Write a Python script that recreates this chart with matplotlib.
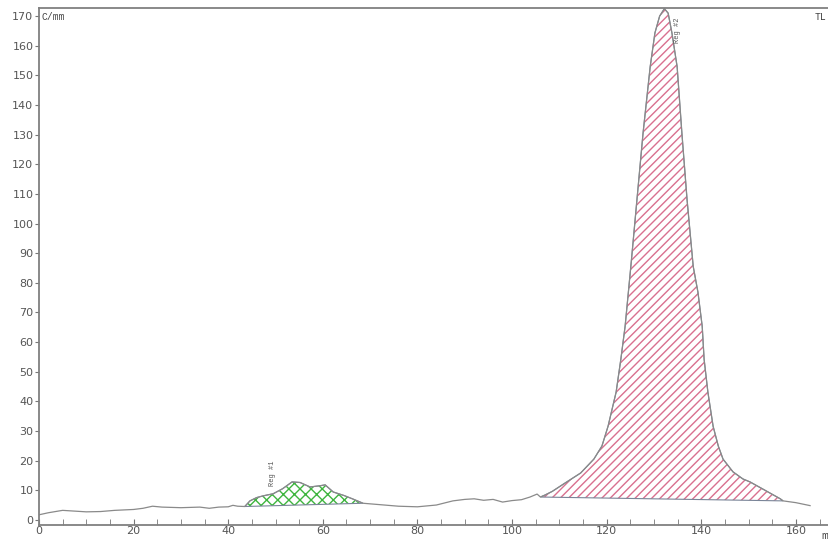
import numpy as np
import matplotlib
matplotlib.use("Agg")
import matplotlib.pyplot as plt
from matplotlib.ticker import MultipleLocator

# trace (mm, C/mm)
pos = [0, 2, 5, 7, 10, 13, 16, 20, 22, 24, 26, 30, 34, 36, 38, 40, 41, 42,
       43.5, 44.6, 46, 47.4, 49.5, 51.5, 53.5, 55.2, 57.3, 59.4, 60.5, 62.2, 64.5, 66.4, 68.5,
       70, 73, 76, 80, 84, 87.5, 90, 92, 94, 96, 98, 100, 102, 103.8, 105.3,
       106, 107, 108.5, 110.8, 114.5, 117.3, 119, 120.3, 122, 123, 123.9, 124.6, 125.2, 126.4,
       127.7, 129.2, 130.2, 131.2, 132.2, 133.0, 133.8, 134.9, 135.9, 137, 138.3, 139.3,
       140.2, 140.6, 141.4, 142.5, 143.6, 144.6, 146.7, 148.8, 150.3, 153, 156.7,
       157.3, 160, 163]
counts = [1.7, 2.4, 3.2, 3.0, 2.7, 2.8, 3.2, 3.5, 3.9, 4.6, 4.3, 4.1, 4.3, 3.9, 4.3, 4.4, 4.9, 4.6,
          4.5, 6.4, 7.5, 8.1, 8.8, 10.5, 12.8, 12.6, 11.1, 11.5, 11.8, 9.4, 8.2, 7.0, 5.6,
          5.4, 5.0, 4.6, 4.4, 5.0, 6.4, 6.9, 7.1, 6.6, 6.9, 6.0, 6.5, 6.8, 7.7, 8.7,
          7.7, 8.4, 9.6, 12.0, 15.8, 20.5, 24.9, 31.6, 43.1, 54.2, 65.3, 77.0, 87.0, 108.0,
          130.6, 152.9, 164.3, 170.0, 172.5, 171.0, 164.3, 152.9, 130.6, 108.0, 85.5, 76.8,
          65.3, 54.2, 43.1, 31.6, 24.9, 20.5, 16.2, 13.8, 12.8, 10.4, 7.1,
          6.4, 5.8, 4.8]

# integration regions (start, end in mm)
regions = [(43.5, 68.5), (106, 157.3)]
region_names = ["Reg #1", "Reg #2"]
label_pos = [(49.3, 11.5), (134.9, 161)]

pos = np.array(pos)
counts = np.array(counts)

fig = plt.figure(figsize=(8.29, 5.40), dpi=100)
ax = fig.add_axes([0.047, 0.028, 0.953, 0.957])

plt.rcParams['hatch.linewidth'] = 1.0
hatch_styles = [("xxx", "#3fb53f"), ("////", "#d9708f")]

for (a, b), (h, c) in zip(regions, hatch_styles):
    m = (pos >= a) & (pos <= b)
    ax.fill(pos[m], counts[m], facecolor="none", edgecolor=c, hatch=h, lw=0)
    ax.fill(pos[m], counts[m], facecolor="none", edgecolor="#7a8598", lw=0.8)

ax.plot(pos, counts, color="#8a8a8a", lw=0.9)

for name, (lx, ly) in zip(region_names, label_pos):
    ax.text(lx, ly, name, rotation=90, ha="center", va="bottom",
            fontsize=5, family="Liberation Mono", color="#555555")

ax.text(0.6, 171.5, "C/mm", fontsize=7, family="Liberation Mono", va="top", color="#444444")
ax.text(164, 171.5, "TL", fontsize=7, family="Liberation Mono", va="top", color="#444444")
# axis unit sits at the far right, partly off the page as in the scan
ax.text(165.4, -0.012, "mm", transform=ax.get_xaxis_transform(), fontsize=8,
        family="Liberation Mono", va="top", color="#444444")

ax.set_xlim(0, 167)
ax.set_ylim(-1.7, 172.7)
ax.xaxis.set_minor_locator(MultipleLocator(5))
ax.yaxis.set_major_locator(MultipleLocator(10))
ax.set_xticks([t for t in range(0, 161, 20)])
ax.tick_params(axis="x", which="both", direction="in", length=4, color="#777777",
               labelsize=8, labelcolor="#555555", pad=1)
ax.tick_params(axis="y", which="major", direction="out", length=3, color="#777777",
               labelsize=8, labelcolor="#555555", pad=1)
for side in ["left", "bottom", "top"]:
    ax.spines[side].set_color("#808080")
    ax.spines[side].set_linewidth(1.3)
ax.spines["right"].set_visible(False)

fig.savefig("out.png", dpi=100)
